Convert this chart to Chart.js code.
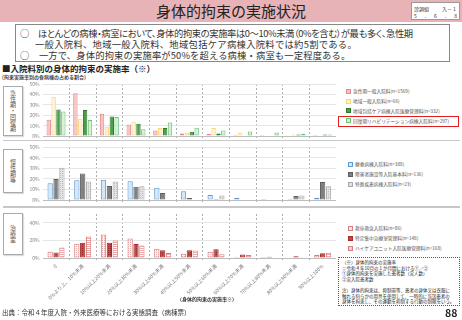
<!DOCTYPE html>
<html lang="ja">
<head>
<meta charset="utf-8">
<script src="https://cdn.jsdelivr.net/npm/chart.js@4.4.1/dist/chart.umd.min.js"></script>
<style>
  body { margin: 0; width: 462px; height: 320px; position: relative; overflow: hidden; background: #fff;
         font-family: "Noto Sans CJK JP", sans-serif; color: #333; }
  .abs { position: absolute; white-space: nowrap; }
  canvas { position: absolute; }
  .titlebar { left: 0; top: 0; width: 462px; height: 22px; background: #e7b3b7; }
  .title { left: 0; top: 0; width: 462px; height: 22px; line-height: 22px; text-align: center; font-size: 15px; color: #222; }
  .doc { left: 411px; top: 2px; width: 49px; height: 18px; background: #fff; border: 1px solid #999; font-size: 5px; line-height: 7px; padding: 2px 2px 0 2px; box-sizing: border-box; }
  .doc .row { display: flex; justify-content: space-between; }
  .box { left: 15px; top: 24px; width: 435px; height: 38px; border: 1px solid #888; box-sizing: border-box; }
  .bl { font-size: 9.3px; line-height: 11px; color: #333; }
  .side { left: 3px; width: 20px; border: 1px solid #aaa; box-sizing: border-box; writing-mode: vertical-rl;
          font-size: 6px; color: #555; display: flex; align-items: center; justify-content: center; box-shadow: 1px 1px 1px #ddd; }
  .sep { left: 3px; width: 457px; height: 1.5px; background: #c8c8c8; z-index: 2; }
  .lg { font-size: 4.7px; line-height: 6px; color: #555; display: flex; align-items: center; }
  .lg i { display: inline-block; width: 3px; height: 3px; border: 1px solid; margin-right: 2px; }
  .note { left: 338px; top: 257px; width: 122px; height: 49px; border: 1px dotted #555; box-sizing: border-box;
          font-size: 4.5px; line-height: 5.6px; padding: 2px 0 0 3px; color: #222; white-space: pre; }
</style>
</head>
<body>
<div class="abs titlebar"></div>
<div class="abs title">身体的拘束の実施状況</div>
<div class="abs doc"><div class="row"><span>診調組</span><span>入－１</span></div><div class="row"><span>5</span><span>.</span><span>6</span><span>.</span><span>8</span></div></div>

<div class="abs box"></div>
<div class="abs bl" style="left:20px;top:28px;font-feature-settings:'palt';letter-spacing:-0.4px">○　ほとんどの病棟・病室において、身体的拘束の実施率は0～10%未満（0%を含む）が最も多く、急性期</div>
<div class="abs bl" style="left:35px;top:39px;letter-spacing:0.3px">一般入院料、地域一般入院料、地域包括ケア病棟入院料では約5割である。</div>
<div class="abs bl" style="left:20px;top:50px;letter-spacing:0.15px">○　一方で、身体的拘束の実施率が50%を超える病棟・病室も一定程度ある。</div>

<div class="abs" style="left:2px;top:62px;font-size:8.5px;font-weight:bold;color:#222">■入院料別の身体的拘束の実施率（※）</div>
<div class="abs" style="left:2px;top:73px;font-size:5px;font-weight:bold;color:#444">(拘束実施率別の各病棟の占める割合)</div>

<div class="abs side" style="top:86px;height:50px">急性期・回復期</div>
<div class="abs side" style="top:149px;height:44px">慢性期等</div>
<div class="abs side" style="top:213px;height:42px">治療室</div>

<canvas id="c1" width="322" height="64" style="left:14px;top:78px"></canvas>
<canvas id="c2" width="322" height="65" style="left:14px;top:141px"></canvas>
<canvas id="c3" width="322" height="95" style="left:14px;top:208px"></canvas>

<div class="abs sep" style="top:139.5px"></div>
<div class="abs sep" style="top:206px"></div>

<div id="lg1"></div>
<div id="lg2"></div>
<div id="lg3"></div>
<div class="abs" style="left:338px;top:115.5px;width:121px;height:11.5px;border:1.5px solid #e02020;box-sizing:border-box"></div>

<div class="abs" style="left:177px;top:295px;font-size:5px;font-weight:bold;color:#333">（身体的拘束の実施率※）</div>
<div class="abs" style="left:2px;top:307px;font-size:6.5px;color:#333">出典：令和４年度入院・外来医療等における実態調査（病棟票）</div>
<div class="abs note">（※）身体的拘束の実施率
＝令和４年10月の１か月間における①／②
①身体的拘束を実施した患者数（実人数）
②実入院患者数

注）身体的拘束は、抑制帯等、患者の身体又は衣服に
触れる何らかの用具を使用して、一時的に当該患者の
身体を拘束し、その運動を抑制する行動の制限をいう。</div>
<div class="abs" style="left:445px;top:306px;font-size:10.5px;font-weight:bold;color:#222;line-height:13px">88</div>

<script>
const categories = ['0', '0%より上、10%未満', '10%以上20%未満', '20%以上30%未満', '30%以上40%未満',
  '40%以上50%未満', '50%以上60%未満', '60%以上70%未満', '70%以上80%未満', '80%以上90%未満', '90%以上100%'];

// 急性期・回復期
const acuteGeneral = [15.7, 41.0, 21.3, 11.1, 5.2, 2.5, 1.9, 1.0, 1.0, 0.6, 1.0];
const regionalGeneral = [37.7, 16.7, 9.0, 13.9, 7.7, 3.1, 7.7, 3.4, 0, 1.5, 0];
const communityCare = [25.6, 25.0, 18.8, 11.7, 7.7, 4.0, 2.5, 0.6, 0.6, 1.5, 1.5];
const rehab = [23.5, 15.4, 18.2, 6.5, 13.0, 8.0, 5.2, 4.3, 3.4, 2.2, 1.5];

// 慢性期等
const longTerm = [15.9, 18.6, 19.2, 17.7, 11.6, 8.2, 4.6, 1.8, 0.9, 1.2, 2.1];
const disability = [19.8, 25.0, 13.1, 12.5, 6.7, 1.8, 0.9, 0, 0, 3.7, 17.0];
const specialDisease = [30.4, 17.4, 17.4, 13.0, 0, 0, 4.3, 0, 0, 4.3, 13.0];

// 治療室
const emergency = [7.0, 16.3, 26.7, 22.1, 10.5, 4.7, 7.0, 1.2, 1.2, 0, 3.5];
const icu = [6.3, 17.4, 17.4, 15.9, 8.9, 8.9, 10.0, 4.0, 1.5, 2.0, 5.5];
const hcu = [11.9, 24.4, 20.0, 14.1, 5.6, 8.5, 4.4, 3.3, 0, 0.8, 5.9];

const yTicks = [0, 10, 20, 30, 40, 50];

Chart.defaults.font.family = '"Noto Sans CJK JP", sans-serif';

function dots(ctx, bg, dot) {
  const c = document.createElement('canvas');
  c.width = 2; c.height = 2;
  const g = c.getContext('2d');
  g.fillStyle = bg; g.fillRect(0, 0, 2, 2);
  g.fillStyle = dot; g.fillRect(0, 0, 1, 1);
  return ctx.createPattern(c, 'repeat');
}
function stripes(ctx, bg, line) {
  const c = document.createElement('canvas');
  c.width = 2; c.height = 2;
  const g = c.getContext('2d');
  g.fillStyle = bg; g.fillRect(0, 0, 2, 2);
  g.fillStyle = line; g.fillRect(0, 0, 2, 1);
  return ctx.createPattern(c, 'repeat');
}

function bar(label, data, fill, border, cat) {
  return { label, data, backgroundColor: fill, borderColor: border, borderWidth: 1, borderSkipped: false,
           categoryPercentage: cat, barPercentage: 0.9 };
}

function panel(id, datasets, showLabels, xHeight) {
  new Chart(document.getElementById(id), {
    type: 'bar',
    data: { labels: categories, datasets },
    options: {
      responsive: false,
      animation: false,
      layout: { padding: { top: 5, left: 0, right: 0, bottom: 0 } },
      plugins: { legend: { display: false }, tooltip: { enabled: false } },
      scales: {
        x: {
          grid: {
            // only the inner category boundaries get a dashed line
            color: c => (c.index === undefined || c.index === 0) ? 'rgba(0,0,0,0)' : '#9a9a9a',
            lineWidth: 0.8,
            tickLength: 4,
            tickBorderDash: [2, 2]
          },
          border: { display: false, dash: [2, 2] },
          ticks: {
            display: showLabels, autoSkip: false, minRotation: 45, maxRotation: 45,
            font: { size: 5 }, color: '#777', padding: 1
          },
          afterFit: s => { s.height = xHeight; }
        },
        y: {
          min: 0, max: 50,
          afterBuildTicks: s => { s.ticks = yTicks.map(v => ({ value: v })); },
          ticks: { callback: v => v + '%', font: { size: 5 }, color: '#888', padding: 3 },
          grid: { color: c => (c.tick && c.tick.value === 0) ? '#bdbdbd' : '#e6e6e6', drawTicks: false },
          border: { display: false },
          afterFit: s => { s.width = 28.7; }
        }
      }
    }
  });
}

const ctx2 = document.getElementById('c2').getContext('2d');
const ctx3 = document.getElementById('c3').getContext('2d');

const set1 = [
  bar('急性期一般入院料(n=1569)', acuteGeneral, '#f7c3c3', '#e48888', 0.73),
  bar('地域一般入院料(n=66)', regionalGeneral, '#fff3d3', '#fbd46a', 0.73),
  bar('地域包括ケア病棟入院医療管理料(n=332)', communityCare, '#4c9f46', '#2f7a2f', 0.73),
  bar('回復期リハビリテーション病棟入院料(n=297)', rehab, '#d7f0d7', '#67c377', 0.73)
];
const set2 = [
  bar('療養病棟入院料(n=388)', longTerm, '#d5e6f6', '#5b9bd5', 0.66),
  bar('障害者施設等入院基本料(n=136)', disability, '#7f7f7f', '#5f5f5f', 0.66),
  bar('特殊疾患病棟入院料(n=23)', specialDisease, dots(ctx2, '#e4e4e4', '#bcbcbc'), '#a8a8a8', 0.66)
];
const set3 = [
  bar('救命救急入院料(n=86)', emergency, dots(ctx3, '#fdf0f0', '#e9a8a8'), '#d67d7d', 0.66),
  bar('特定集中治療室管理料(n=148)', icu, dots(ctx3, '#cc4444', '#9e2a2a'), '#a32b2b', 0.66),
  bar('ハイケアユニット入院医療管理料(n=168)', hcu, stripes(ctx3, '#ffffff', '#eba3a3'), '#d67d7d', 0.66)
];

panel('c1', set1, false, 5);
panel('c2', set2, false, 5);
panel('c3', set3, true, 45);

function legend(id, sets, left, tops, swatch) {
  const host = document.getElementById(id);
  sets.forEach((d, i) => {
    const el = document.createElement('div');
    el.className = 'abs lg';
    el.style.left = left + 'px';
    el.style.top = (tops[i] - 3) + 'px';
    const sw = document.createElement('i');
    sw.style.background = swatch[i];
    sw.style.borderColor = d.borderColor;
    el.appendChild(sw);
    el.appendChild(document.createTextNode(d.label));
    host.appendChild(el);
  });
}
legend('lg1', set1, 346, [91, 101, 110.5, 120.5], ['#f7c3c3', '#fff3d3', '#4c9f46', '#d7f0d7']);
legend('lg2', set2, 348, [164, 174, 184], ['#d5e6f6', '#7f7f7f', '#e0e0e0']);
legend('lg3', set3, 348, [228, 238, 248], ['#fbe6e6', '#cc4444', '#f6d0d0']);
</script>
</body>
</html>
